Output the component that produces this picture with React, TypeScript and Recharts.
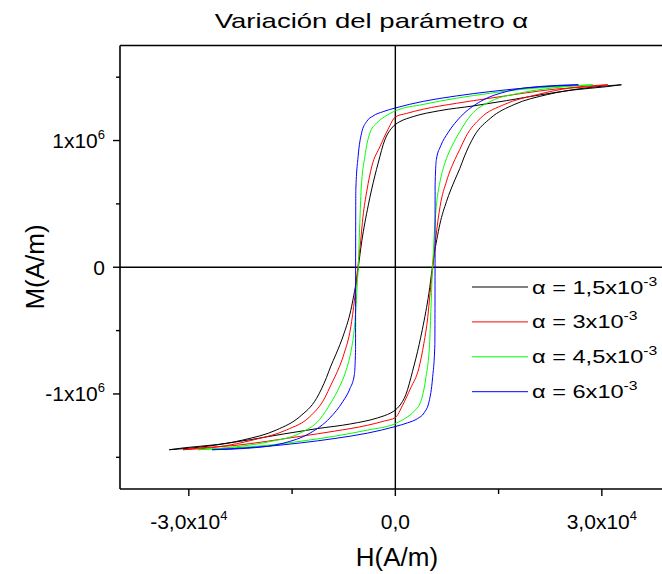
import { Legend, Line, LineChart, ReferenceLine, XAxis, YAxis } from "recharts";

type Pt = [number, number];

const font = '"Liberation Sans", Arial, Helvetica, sans-serif';

const alphaLabels = ["1,5", "3", "4,5", "6"];
const colors = ["#000000", "#ff0000", "#00ff00", "#0000ff"];

const xTicks = [-30000, -15000, 0, 15000, 30000];
const xLabels: Record<string, [string, string]> = { "-30000": ["-3,0x10", "4"], "0": ["0,0", ""], "30000": ["3,0x10", "4"] };
const yTicks = [-1.5e6, -1e6, -0.5e6, 0, 0.5e6, 1e6, 1.5e6];
const yLabels: Record<string, [string, string]> = { "-1000000": ["-1x10", "6"], "0": ["0", ""], "1000000": ["1x10", "6"] };

// H (A/m), M (A/m); "up" = descending branch, "down" = ascending branch
const blackUp: Pt[] = [
  [-32840, -1.44e6], [-26950, -1.41e6], [-22110, -1.363e6], [-17260, -1.284e6], [-13880, -1.179e6],
  [-11450, -1.035e6], [-10000, -0.87e6], [-9370, -0.78e6], [-8650, -0.69e6], [-7440, -0.52e6],
  [-6470, -0.34e6], [-6030, -0.22e6], [-5640, -0.1e6], [-5380, 0], [-4870, 0.208e6], [-4430, 0.35e6],
  [-3920, 0.492e6], [-3460, 0.61e6], [-2500, 0.821e6], [-1530, 1.005e6], [-550, 1.097e6], [0, 1.127e6],
  [650, 1.149e6], [2590, 1.189e6], [6470, 1.236e6], [11300, 1.273e6], [16160, 1.315e6], [21000, 1.36e6],
  [25830, 1.399e6], [30690, 1.425e6], [32840, 1.44e6],
];
const blackDown: Pt[] = [
  [-32840, -1.44e6], [-30690, -1.425e6], [-25830, -1.399e6], [-21000, -1.36e6], [-16160, -1.315e6],
  [-11300, -1.273e6], [-6470, -1.236e6], [-2590, -1.189e6], [-650, -1.149e6], [0, -1.127e6], [550, -1.097e6],
  [1530, -1.005e6], [2500, -0.821e6], [3460, -0.61e6], [3920, -0.492e6], [4430, -0.35e6], [4870, -0.208e6],
  [5380, 0], [5640, 0.1e6], [6030, 0.22e6], [6470, 0.34e6], [7440, 0.52e6], [8650, 0.69e6], [9370, 0.78e6],
  [10000, 0.87e6], [11450, 1.035e6], [13880, 1.179e6], [17260, 1.284e6], [22110, 1.363e6], [26950, 1.41e6],
  [32840, 1.44e6],
];
const redUp: Pt[] = [
  [-30850, -1.44e6], [-25500, -1.416e6], [-20660, -1.363e6], [-15810, -1.284e6], [-12420, -1.179e6],
  [-10240, -1.03e6], [-9370, -0.93e6], [-8650, -0.85e6], [-7440, -0.68e6], [-6500, -0.48e6], [-5900, -0.24e6],
  [-5450, 0], [-5050, 0.2e6], [-4700, 0.4e6], [-4150, 0.6e6], [-3400, 0.8e6], [-2250, 0.95e6], [-1050, 1.09e6],
  [0, 1.186e6], [1630, 1.214e6], [4040, 1.247e6], [8890, 1.294e6], [13730, 1.334e6], [18570, 1.373e6],
  [23420, 1.407e6], [28260, 1.425e6], [30850, 1.44e6],
];
const redDown: Pt[] = [
  [-30850, -1.44e6], [-28260, -1.425e6], [-23420, -1.407e6], [-18570, -1.373e6], [-13730, -1.334e6],
  [-8890, -1.294e6], [-4040, -1.247e6], [-1630, -1.214e6], [0, -1.186e6], [1050, -1.09e6], [2250, -0.95e6],
  [3400, -0.8e6], [4150, -0.6e6], [4700, -0.4e6], [5050, -0.2e6], [5450, 0], [5900, 0.24e6], [6500, 0.48e6],
  [7440, 0.68e6], [8650, 0.85e6], [9370, 0.93e6], [10240, 1.03e6], [12420, 1.179e6], [15810, 1.284e6],
  [20660, 1.363e6], [25500, 1.416e6], [30850, 1.44e6],
];
const greenUp: Pt[] = [
  [-28700, -1.44e6], [-23070, -1.416e6], [-18230, -1.376e6], [-13880, -1.31e6], [-10970, -1.2e6],
  [-9370, -1.07e6], [-8170, -0.95e6], [-7190, -0.82e6], [-6470, -0.67e6], [-5990, -0.5e6], [-5700, -0.3e6],
  [-5500, -0.1e6], [-5380, 0], [-5260, 0.2e6], [-5160, 0.35e6], [-4970, 0.61e6], [-4430, 0.873e6],
  [-3710, 1.058e6], [-2730, 1.137e6], [-1530, 1.189e6], [0, 1.234e6], [4040, 1.285e6], [8890, 1.334e6],
  [13730, 1.373e6], [18570, 1.405e6], [23420, 1.425e6], [28700, 1.44e6],
];
const greenDown: Pt[] = [
  [-28700, -1.44e6], [-23420, -1.425e6], [-18570, -1.405e6], [-13730, -1.373e6], [-8890, -1.334e6],
  [-4040, -1.285e6], [0, -1.234e6], [1530, -1.189e6], [2730, -1.137e6], [3710, -1.058e6], [4430, -0.873e6],
  [4970, -0.61e6], [5160, -0.35e6], [5260, -0.2e6], [5380, 0], [5500, 0.1e6], [5700, 0.3e6], [5990, 0.5e6],
  [6470, 0.67e6], [7190, 0.82e6], [8170, 0.95e6], [9370, 1.07e6], [10970, 1.2e6], [13880, 1.31e6],
  [18230, 1.376e6], [23070, 1.416e6], [28700, 1.44e6],
];
const blueUp: Pt[] = [
  [-26600, -1.44e6], [-21620, -1.429e6], [-16300, -1.389e6], [-12420, -1.31e6], [-9520, -1.19e6],
  [-7630, -1.06e6], [-6610, -0.96e6], [-5960, -0.85e6], [-5780, -0.65e6], [-5770, 0], [-5740, 0.61e6],
  [-5410, 0.873e6], [-4910, 1.058e6], [-4180, 1.149e6], [-3230, 1.194e6], [-1770, 1.228e6], [0, 1.257e6],
  [4040, 1.309e6], [8890, 1.352e6], [13730, 1.386e6], [18570, 1.413e6], [23420, 1.431e6], [26600, 1.44e6],
];
const blueDown: Pt[] = [
  [-26600, -1.44e6], [-23420, -1.431e6], [-18570, -1.413e6], [-13730, -1.386e6], [-8890, -1.352e6],
  [-4040, -1.309e6], [0, -1.257e6], [1770, -1.228e6], [3230, -1.194e6], [4180, -1.149e6], [4910, -1.058e6],
  [5410, -0.873e6], [5740, -0.61e6], [5770, 0], [5780, 0.65e6], [5960, 0.85e6], [6610, 0.96e6],
  [7630, 1.06e6], [9520, 1.19e6], [12420, 1.31e6], [16300, 1.389e6], [21620, 1.429e6], [26600, 1.44e6],
];

const branches: Pt[][][] = [
  [blackUp, blackDown],
  [redUp, redDown],
  [greenUp, greenDown],
  [blueUp, blueDown],
];

const rows = (pts: Pt[]) => pts.map(([h, m]) => ({ h, m }));

function XTick(props: any) {
  const { x, y, payload } = props;
  const lab = xLabels[String(payload.value)];
  return (
    <g>
      <line x1={x} x2={x} y1={y} y2={y + (lab ? 7 : 5)} stroke="#000" strokeWidth={1.4} />
      {lab && (
        <text x={x} y={y + 40} textAnchor="middle" fontSize={21} fontFamily={font} fill="#000">
          {lab[0]}
          {lab[1] && <tspan dy={-9} fontSize={13}>{lab[1]}</tspan>}
        </text>
      )}
    </g>
  );
}

function YTick(props: any) {
  const { x, y, payload } = props;
  const lab = yLabels[String(payload.value)];
  return (
    <g>
      <line x1={x} x2={x - (lab ? 7 : 4)} y1={y} y2={y} stroke="#000" strokeWidth={1.4} />
      {lab && (
        <text x={x - 15} y={y + 7.5} textAnchor="end" fontSize={21} fontFamily={font} fill="#000">
          {lab[0]}
          {lab[1] && <tspan dy={-9} fontSize={13}>{lab[1]}</tspan>}
        </text>
      )}
    </g>
  );
}

function LegendBox() {
  return (
    <svg width={200} height={140}>
      {alphaLabels.map((a, i) => {
        const cy = 17 + i * 34.9;
        return (
          <g key={a}>
            <line x1={4} x2={60} y1={cy} y2={cy} stroke={colors[i]} strokeWidth={1} />
            <text transform={`translate(64 ${cy + 6.5}) scale(1.31 1)`} fontSize={18} fontFamily={font} fill="#000">
              {"α = " + a + "x10"}
              <tspan dy={-8} fontSize={12}>-3</tspan>
            </text>
          </g>
        );
      })}
    </svg>
  );
}

export default function App() {
  return (
    <div style={{ position: "absolute", left: 0, top: 0, width: 662, height: 574, background: "#fff" }}>
      <LineChart width={662} height={574} margin={{ top: 45.5, right: 0, bottom: 45, left: 20 }}>
        <XAxis
          dataKey="h"
          type="number"
          domain={[-40000, 38740]}
          allowDataOverflow
          ticks={xTicks}
          interval={0}
          tick={<XTick />}
          tickLine={false}
          tickSize={0}
          tickMargin={0}
          height={40}
          axisLine={{ stroke: "#000", strokeWidth: 1.6 }}
        />
        <YAxis
          type="number"
          domain={[-1.75e6, 1.75e6]}
          allowDataOverflow
          ticks={yTicks}
          interval={0}
          tick={<YTick />}
          tickLine={false}
          tickSize={0}
          tickMargin={0}
          width={100}
          axisLine={{ stroke: "#000", strokeWidth: 1.6 }}
        />
        <ReferenceLine y={1.75e6} stroke="#000" strokeWidth={1.6} />
        <ReferenceLine x={0} stroke="#000" strokeWidth={1.4} />
        <ReferenceLine y={0} stroke="#000" strokeWidth={1.4} />
        {branches.map((pair, i) =>
          pair.map((pts, j) => (
            <Line
              key={`${i}-${j}`}
              data={rows(pts)}
              dataKey="m"
              type="monotoneX"
              stroke={colors[i]}
              strokeWidth={1}
              dot={false}
              activeDot={false}
              legendType="none"
              isAnimationActive={false}
            />
          ))
        )}
        <Legend
          layout="vertical"
          align="center"
          verticalAlign="middle"
          content={<LegendBox />}
          wrapperStyle={{ position: "absolute", left: 468, top: 270, width: 200, height: 140 }}
        />
        <text transform="translate(371.5 28) scale(1.31 1)" textAnchor="middle" fontSize={21} fontFamily={font} fill="#000">
          Variación del parámetro α
        </text>
        <text x={397} y={566} textAnchor="middle" fontSize={26} fontFamily={font} fill="#000">
          H(A/m)
        </text>
        <text transform="translate(44 267) rotate(-90)" textAnchor="middle" fontSize={26} fontFamily={font} fill="#000">
          M(A/m)
        </text>
      </LineChart>
    </div>
  );
}
